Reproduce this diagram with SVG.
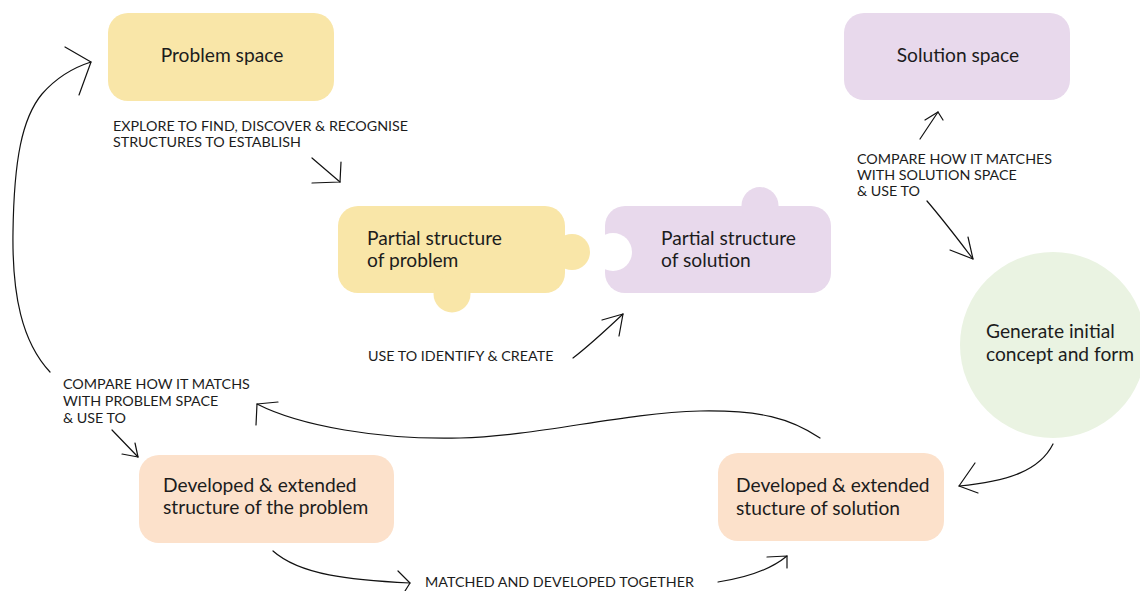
<svg xmlns="http://www.w3.org/2000/svg" width="1140" height="591" viewBox="0 0 1140 591">
<style>
.t{font-family:Lato,"Noto Sans","Liberation Sans",sans-serif;font-size:19.2px;fill:#1c1c1c}
.l{font-family:Lato,"Noto Sans","Liberation Sans",sans-serif;font-size:14.3px;fill:#1c1c1c}
.y{fill:#F9E6A8}
.p{fill:#E8D9EC}
.o{fill:#FCE1CB}
.g{fill:#EAF3E2}
.c path{fill:none;stroke:#111;stroke-width:1.2;stroke-linecap:round;stroke-linejoin:round}
</style>
<defs>
<mask id="notch">
<rect x="590" y="180" width="260" height="130" fill="#fff"/>
<circle cx="613" cy="252" r="19" fill="#000"/>
</mask>
</defs>
<rect width="1140" height="591" fill="#fff"/>

<g id="problem-space">
<rect class="y" x="108" y="13" width="226" height="88" rx="20"/>
<text class="t" x="222" y="62" text-anchor="middle">Problem space</text>
</g>

<g id="solution-space">
<rect class="p" x="844" y="13" width="226" height="87" rx="20"/>
<text class="t" x="958" y="62" text-anchor="middle">Solution space</text>
</g>

<g id="partial-problem">
<rect class="y" x="338" y="206" width="227" height="87" rx="20"/>
<circle class="y" cx="572" cy="252" r="18"/>
<circle class="y" cx="452" cy="294" r="18.5"/>
<text class="t" x="367" y="245">Partial structure</text>
<text class="t" x="367" y="267">of problem</text>
</g>

<g id="partial-solution">
<g mask="url(#notch)">
<rect class="p" x="605" y="206" width="226" height="87" rx="20"/>
<circle class="p" cx="760" cy="205.5" r="18.5"/>
</g>
<text class="t" x="661" y="245">Partial structure</text>
<text class="t" x="661" y="267">of solution</text>
</g>

<g id="generate">
<circle class="g" cx="1053" cy="345" r="93"/>
<text class="t" x="986" y="338">Generate initial</text>
<text class="t" x="986" y="361">concept and form</text>
</g>

<g id="developed-problem">
<rect class="o" x="139" y="455" width="255" height="88" rx="20"/>
<text class="t" x="163" y="492">Developed &amp; extended</text>
<text class="t" x="163" y="514">structure of the problem</text>
</g>

<g id="developed-solution">
<rect class="o" x="718" y="453" width="226" height="88" rx="20"/>
<text class="t" x="736" y="492">Developed &amp; extended</text>
<text class="t" x="736" y="515">stucture of solution</text>
</g>

<g id="labels">
<text class="l" x="113" y="131">EXPLORE TO FIND, DISCOVER &amp; RECOGNISE</text>
<text class="l" x="113" y="147">STRUCTURES TO ESTABLISH</text>
<text class="l" x="857" y="164">COMPARE HOW IT MATCHES</text>
<text class="l" x="857" y="180">WITH SOLUTION SPACE</text>
<text class="l" x="857" y="196">&amp; USE TO</text>
<text class="l" x="368" y="361">USE TO IDENTIFY &amp; CREATE</text>
<text class="l" x="63" y="389">COMPARE HOW IT MATCHS</text>
<text class="l" x="63" y="406">WITH PROBLEM SPACE</text>
<text class="l" x="63" y="423">&amp; USE TO</text>
<text class="l" x="425" y="587">MATCHED AND DEVELOPED TOGETHER</text>
</g>

<g id="connectors" class="c">
<path d="M50 372 C22 342 12 295 13 232 C14 160 22 118 42 94 C56 78 72 68 91 62"/>
<path d="M65 47 L91 62 L79 95"/>
<path d="M312 158 L340 182"/>
<path d="M341 162 L340 182 L312 183"/>
<path d="M573 358 C590 345 606 330 623 314"/>
<path d="M602 320 L623 314 L619 336"/>
<path d="M920 139 L938 112"/>
<path d="M925 120 L938 112 L943 120"/>
<path d="M927 201 C945 222 960 242 973 259"/>
<path d="M968 237 L973 259 L950 250"/>
<path d="M1053 444 C1040 470 1010 481 959 486"/>
<path d="M975 463 L959 486 L978 493"/>
<path d="M820 438 C790 418 760 410 700 411 C620 413 540 436 460 438 C380 440 300 426 257 404"/>
<path d="M278 402 L257 404 L256 425"/>
<path d="M112 430 L138 457"/>
<path d="M135 443 L138 457 L122 454"/>
<path d="M273 551 C300 575 350 580 410 583"/>
<path d="M398 571 L410 583 L405 591"/>
<path d="M718 582 C745 578 770 570 787 556"/>
<path d="M767 557 L787 556 L787 568"/>
</g>
</svg>
